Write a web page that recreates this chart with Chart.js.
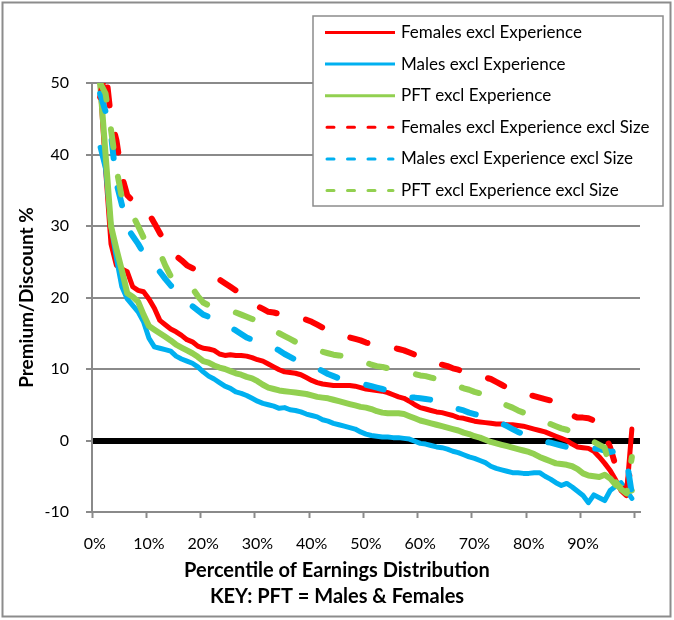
<!DOCTYPE html>
<html><head><meta charset="utf-8">
<script src="https://cdn.jsdelivr.net/npm/chart.js@4"></script>
<style>html,body{margin:0;padding:0;background:#fff}#wrap{width:674px;height:620px}</style>
</head><body><div id="wrap"><canvas id="c" width="674" height="620"></canvas></div>
<script>
const percentiles = [1,2,3,4,5,6,7,8,9,10,11,12,13,14,15,16,17,18,19,20,21,22,23,24,25,26,27,28,29,30,31,32,33,34,35,36,37,38,39,40,41,42,43,44,45,46,47,48,49,50,51,52,53,54,55,56,57,58,59,60,61,62,63,64,65,66,67,68,69,70,71,72,73,74,75,76,77,78,79,80,81,82,83,84,85,86,87,88,89,90,91,92,93,94,95,96,97,98,99];

const seriesNames = ['Females excl Experience','Males excl Experience','PFT excl Experience','Females excl Experience excl Size','Males excl Experience excl Size','PFT excl Experience excl Size'];

const femalesExcl = [50,38,27.5,24.5,24,23.6,21.5,21,20.8,19.8,
 18.5,16.8,16.2,15.6,15.2,14.7,14.1,13.8,13.2,12.9,
 12.8,12.6,12.1,11.9,12,11.9,11.9,11.8,11.6,11.3,
 11.1,10.7,10.3,9.9,9.6,9.5,9.4,9.2,8.8,8.4,
 8.1,7.9,7.8,7.7,7.7,7.7,7.7,7.6,7.4,7.2,
 7.1,7.0,6.9,6.7,6.4,6.1,5.9,5.5,5.0,4.6,
 4.4,4.2,4.0,3.9,3.7,3.5,3.2,3.1,2.9,2.7,
 2.6,2.5,2.4,2.3,2.3,2.2,2.2,2.1,2.0,1.8,
 1.6,1.4,1.2,0.9,0.6,0.3,0.0,-0.5,-0.9,-1.0,
 -1.1,-1.5,-2.3,-3.2,-4.2,-5.5,-7.0,-7.7,1.6];

const malesExcl = [41,38,30,25.5,21.5,19.8,18.9,18,16.6,14.3,
 13.1,12.9,12.7,12.5,11.8,11.4,11.1,10.8,10.3,9.6,
 9.0,8.6,8.1,7.6,7.3,6.8,6.6,6.3,5.9,5.5,
 5.2,5.0,4.8,4.5,4.6,4.3,4.2,4.0,3.7,3.5,
 3.3,2.9,2.7,2.4,2.2,2.0,1.8,1.6,1.2,0.9,
 0.7,0.6,0.5,0.5,0.4,0.4,0.3,0.2,-0.1,-0.4,
 -0.5,-0.7,-0.9,-1.0,-1.2,-1.5,-1.7,-2.0,-2.3,-2.5,
 -2.8,-3.1,-3.6,-3.9,-4.1,-4.3,-4.5,-4.5,-4.6,-4.6,
 -4.5,-4.5,-5.0,-5.4,-5.9,-6.3,-6.0,-6.5,-7.1,-7.7,
 -8.7,-7.6,-8.0,-8.4,-7.0,-6.4,-5.9,-7.0,-8.1];

const pftExcl = [50,40,30,26.8,23.8,20.6,20.1,19.4,17.6,16,
 15.5,15,14.5,14,13.4,13,12.6,12.2,11.7,11.1,
 10.9,10.5,10.2,10.0,9.7,9.4,9.2,8.9,8.7,8.3,
 7.8,7.4,7.2,7.0,6.9,6.8,6.7,6.6,6.5,6.3,
 6.1,6.0,5.9,5.7,5.5,5.3,5.1,4.9,4.7,4.6,
 4.4,4.1,3.9,3.8,3.8,3.8,3.7,3.4,3.1,2.8,
 2.6,2.4,2.2,2.0,1.8,1.6,1.4,1.1,0.9,0.6,
 0.4,0.1,-0.2,-0.4,-0.6,-0.8,-1.0,-1.2,-1.4,-1.6,
 -1.9,-2.3,-2.6,-2.9,-3.2,-3.3,-3.4,-3.6,-4.0,-4.6,
 -4.9,-5.0,-5.1,-4.8,-5.3,-6.2,-6.6,-7.1,-7.0];

const femalesExclSize = [48,52,45,42,37,34.3,33.5,33,32.5,31.7,
 30.4,29.0,27.8,26.5,25.8,25.2,24.5,24.1,23.7,23.4,
 23.1,22.8,22.5,22.0,21.5,21.0,20.4,19.8,19.2,18.8,
 18.4,18.0,17.9,17.7,17.5,17.3,17.2,17.1,16.9,16.6,
 16.2,15.8,15.5,15.2,14.9,14.6,14.4,14.2,14.0,13.7,
 13.5,13.3,13.2,13.1,13.0,12.8,12.6,12.3,12.0,11.7,
 11.4,11.1,10.8,10.6,10.4,10.1,9.9,9.6,9.4,9.2,
 9.0,8.8,8.6,8.2,7.8,7.4,7.1,6.9,6.6,6.4,
 6.2,6.0,5.8,5.6,5.3,4.8,4.2,3.5,3.2,3.2,
 3.1,2.8,2.3,1.0,-1.0,-3.5,-5.8,-7.0,-3.0];

const malesExclSize = [48.5,46,42.8,36,33,29.7,28.6,27.5,26.2,25.3,
 24.5,23.6,22.6,21.7,20.8,20,19.3,18.8,18.2,17.6,
 17.3,17,16.6,16.2,15.8,15.4,14.9,14.4,14.1,13.8,
 13.5,13.2,13.0,12.6,12.1,11.7,11.3,11.0,10.7,10.3,
 10.1,9.7,9.3,9.0,8.7,8.5,8.3,8.1,8.0,7.8,
 7.6,7.4,7.2,7.0,6.8,6.5,6.2,6.0,6.0,5.9,
 5.8,5.7,5.5,5.2,5.0,4.7,4.4,4.2,3.9,3.7,
 3.5,3.2,3.0,2.7,2.4,2.0,1.6,1.2,0.9,0.6,
 0.3,0.1,-0.2,-0.3,-0.5,-0.7,-0.9,-1.0,-1.2,-1.3,
 -1.3,-1.1,-1.2,-1.4,-1.6,-1.5,-1.6,-2.5,-7.5];

const pftExclSize = [50,48.5,43.5,38,34,32.5,31.5,30,28.4,27.7,
 27,26.3,24.5,23,22.5,22.1,21.7,21.3,20.2,19.3,
 18.9,18.8,18.6,18.4,18.1,17.9,17.6,17.3,17.0,16.8,
 16.4,15.9,15.4,15.0,14.6,14.2,13.8,13.5,13.3,13.0,
 12.7,12.4,12.2,12.0,11.9,11.8,11.7,11.5,11.2,10.9,
 10.6,10.4,10.3,10.1,10.0,9.8,9.7,9.5,9.3,9.1,
 9.0,8.8,8.6,8.3,8.0,7.8,7.6,7.3,7.1,6.8,
 6.6,6.3,5.9,5.6,5.2,4.9,4.6,4.2,3.9,3.6,
 3.2,2.9,2.6,2.3,2.0,1.7,1.5,1.2,0.9,0.5,
 0.2,-0.2,-0.6,-1.0,-4.0,-5.8,-6.8,-7.4,-2.3];

const xTickLabels = ['0%','10%','20%','30%','40%','50%','60%','70%','80%','90%',''];
const yTicks = [-10,0,10,20,30,40,50];
const axisTitleY = 'Premium/Discount %';
const bottomTitle = ['Percentile of Earnings Distribution','KEY: PFT = Males & Females'];

const RED = '#FF0000', BLUE = '#00B0F0', GREEN = '#92D050';
const GRID = '#8a8a8a';

const seriesValues = [femalesExcl, malesExcl, pftExcl, femalesExclSize, malesExclSize, pftExclSize];
const seriesColors = [RED, BLUE, GREEN, RED, BLUE, GREEN];
const seriesDashed = [false, false, false, true, true, true];
const seriesWidths = [5, 5, 6, 6, 6, 6];

const datasets = seriesValues.map((vals, i) => ({
  label: seriesNames[i],
  data: percentiles.map((p, k) => ({x: p, y: vals[k]})),
  borderColor: seriesColors[i],
  backgroundColor: seriesColors[i],
  borderWidth: seriesWidths[i],
  borderDash: seriesDashed[i] ? [18, 30] : [],
  borderCapStyle: 'round',
  borderJoinStyle: 'round',
  pointRadius: 0,
  tension: 0,
  fill: false,
  clip: 0,
  order: 6 - i
}));

const frameLegend = {
  id: 'frameLegend',
  afterDraw(chart) {
    const ctx = chart.ctx;
    ctx.save();
    ctx.strokeStyle = '#8c8c8c';
    ctx.lineWidth = 2;
    ctx.strokeRect(2.5, 2.5, 668, 614);
    const x0 = 313, y0 = 16, w = 350, h = 190;
    ctx.fillStyle = '#fff';
    ctx.fillRect(x0, y0, w, h);
    ctx.lineWidth = 1.5;
    ctx.strokeStyle = '#8c8c8c';
    ctx.strokeRect(x0, y0, w, h);
    chart.data.datasets.forEach((ds, i) => {
      const y = 32.5 + i * 31.6;
      ctx.beginPath();
      ctx.strokeStyle = ds.borderColor;
      ctx.lineWidth = 3;
      if (ds.borderDash && ds.borderDash.length) {
        ctx.lineCap = 'round';
        ctx.setLineDash([7, 13.5]);
        ctx.moveTo(327, y); ctx.lineTo(393, y);
      } else {
        ctx.lineCap = 'butt';
        ctx.setLineDash([]);
        ctx.moveTo(325, y); ctx.lineTo(395, y);
      }
      ctx.stroke();
      ctx.setLineDash([]);
      ctx.fillStyle = '#000';
      ctx.font = '17px Lato';
      ctx.textBaseline = 'middle';
      ctx.textAlign = 'left';
      ctx.fillText(ds.label, 401, y, 255);
    });
    ctx.restore();
  }
};

Chart.defaults.font.family = 'Lato';
Chart.defaults.color = '#000';

new Chart(document.getElementById('c'), {
  type: 'line',
  data: { datasets },
  options: {
    responsive: false,
    animation: false,
    devicePixelRatio: 1,
    layout: { padding: { left: 0, right: 0, top: 83, bottom: 10 } },
    plugins: {
      legend: { display: false },
      tooltip: { enabled: false },
      title: {
        display: true,
        position: 'bottom',
        text: bottomTitle,
        color: '#000',
        font: { family: 'Lato', size: 20, weight: 'bold', lineHeight: 1.3 },
        padding: { top: 0, bottom: 0 }
      }
    },
    scales: {
      x: {
        type: 'linear',
        min: -0.5,
        max: 100.5,
        afterFit(s) { s.height = 46; },
        afterBuildTicks(s) { s.ticks = xTickLabels.map((_, i) => ({ value: i * 10 - 0.5 })); },
        ticks: {
          autoSkip: false,
          maxRotation: 0,
          padding: 16,
          labelOffset: 2.7,
          font: { size: 16 },
          color: '#000',
          callback: (v, i) => xTickLabels[i]
        },
        grid: { drawOnChartArea: false, drawTicks: true, tickLength: 6, tickColor: GRID, tickWidth: 2 },
        border: { color: GRID, width: 2 }
      },
      y: {
        min: -10,
        max: 50,
        afterFit(s) { s.width = 92; },
        afterBuildTicks(s) { s.ticks = yTicks.map(v => ({ value: v })); },
        ticks: { padding: 17, font: { size: 16 }, color: '#000' },
        grid: {
          color: c => (c.tick && c.tick.value === 0) ? '#000' : GRID,
          lineWidth: c => (c.tick && c.tick.value === 0) ? 6 : 2,
          drawTicks: true, tickLength: 6, tickColor: GRID, tickWidth: 2
        },
        border: { color: GRID, width: 2 },
        title: {
          display: true,
          text: axisTitleY,
          color: '#000',
          font: { family: 'Lato', size: 19, weight: 'bold' },
          padding: { top: 15, bottom: 0 }
        }
      },
      yRight: {
        position: 'right',
        min: -10,
        max: 50,
        afterFit(s) { s.width = 34; },
        ticks: { display: false },
        grid: { display: false },
        border: { display: false }
      }
    }
  },
  plugins: [frameLegend]
});
</script>
</body></html>
